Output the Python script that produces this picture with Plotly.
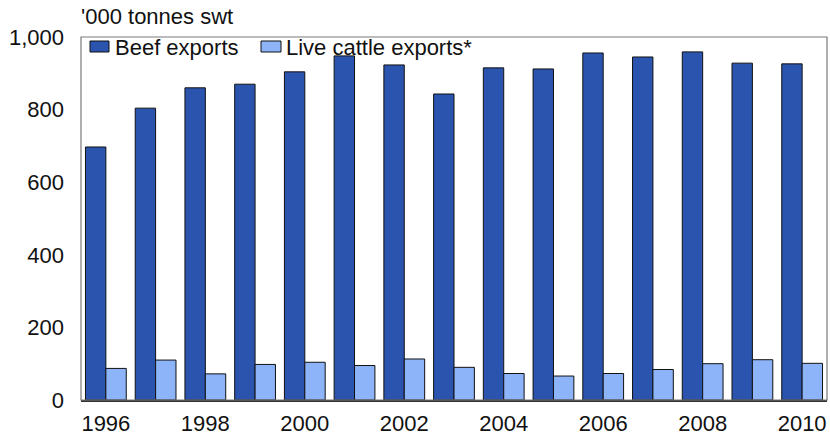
import plotly.graph_objects as go

# Annual exports, '000 tonnes shipped weight
years = list(range(1996, 2011))
beef_exports = [697, 804, 860, 870, 904, 948, 923, 843, 915, 912, 956, 945, 959, 928, 926]
live_cattle_exports = [87, 110, 72, 98, 104, 95, 113, 90, 73, 66, 73, 84, 100, 111, 101]
tick_years = [1996, 1998, 2000, 2002, 2004, 2006, 2008, 2010]
y_ticks = [0, 200, 400, 600, 800, 1000]

BEEF = "#2B54AF"
LIVE = "#8DB4F8"
FONT = "Liberation Sans, Arial, sans-serif"
FS = 22

W, H = 830, 438
L, R, T, B = 81, 3, 37, 38

fig = go.Figure()
fig.add_trace(go.Bar(x=years, y=beef_exports, name="Beef exports",
                     marker=dict(color=BEEF, line=dict(color="#111111", width=1))))
fig.add_trace(go.Bar(x=years, y=live_cattle_exports, name="Live cattle exports*",
                     marker=dict(color=LIVE, line=dict(color="#111111", width=1))))

pw, ph = W - L - R, H - T - B


def px_x(p):
    return (p - L) / pw


def px_y(p):
    return 1 - (p - T) / ph


shapes = [
    # plot frame
    dict(type="rect", xref="paper", yref="paper", x0=0, x1=1, y0=0, y1=1,
         line=dict(color="#7a7a7a", width=1.2), layer="above"),
    # legend swatches
    dict(type="rect", xref="paper", yref="paper",
         x0=px_x(90), x1=px_x(109), y0=px_y(52), y1=px_y(41),
         fillcolor=BEEF, line=dict(color="#111111", width=1)),
    dict(type="rect", xref="paper", yref="paper",
         x0=px_x(261), x1=px_x(281), y0=px_y(52), y1=px_y(41),
         fillcolor=LIVE, line=dict(color="#111111", width=1)),
]

annotations = [
    dict(text="'000 tonnes swt", xref="paper", yref="paper", x=0, y=px_y(17),
         xanchor="left", yanchor="middle", showarrow=False,
         font=dict(family=FONT, size=FS, color="#111111"), xshift=-2),
    dict(text="Beef exports", xref="paper", yref="paper", x=px_x(113), y=px_y(47),
         xanchor="left", yanchor="middle", showarrow=False,
         font=dict(family=FONT, size=FS, color="#111111")),
    dict(text="Live cattle exports*", xref="paper", yref="paper", x=px_x(284), y=px_y(47),
         xanchor="left", yanchor="middle", showarrow=False,
         font=dict(family=FONT, size=FS, color="#111111")),
]

fig.update_layout(
    width=W, height=H,
    margin=dict(l=L, r=R, t=T, b=B, pad=0, autoexpand=False),
    paper_bgcolor="white", plot_bgcolor="white",
    barmode="group", bargap=0.18, bargroupgap=0,
    showlegend=False,
    font=dict(family=FONT, size=FS, color="#111111"),
    shapes=shapes, annotations=annotations,
)
fig.update_xaxes(range=[1995.5, 2010.5], tickvals=tick_years, ticks="",
                 showgrid=False, zeroline=False, automargin=False,
                 showline=True, linecolor="#333333", linewidth=1.5,
                 ticklabelstandoff=3,
                 tickfont=dict(family=FONT, size=FS, color="#111111"))
fig.update_yaxes(range=[0, 1000], tickvals=y_ticks, tickformat=",", ticks="",
                 showgrid=False, zeroline=False, showline=False, automargin=False,
                 ticklabelstandoff=16,
                 tickfont=dict(family=FONT, size=FS, color="#111111"))

fig.write_html("out.html")
